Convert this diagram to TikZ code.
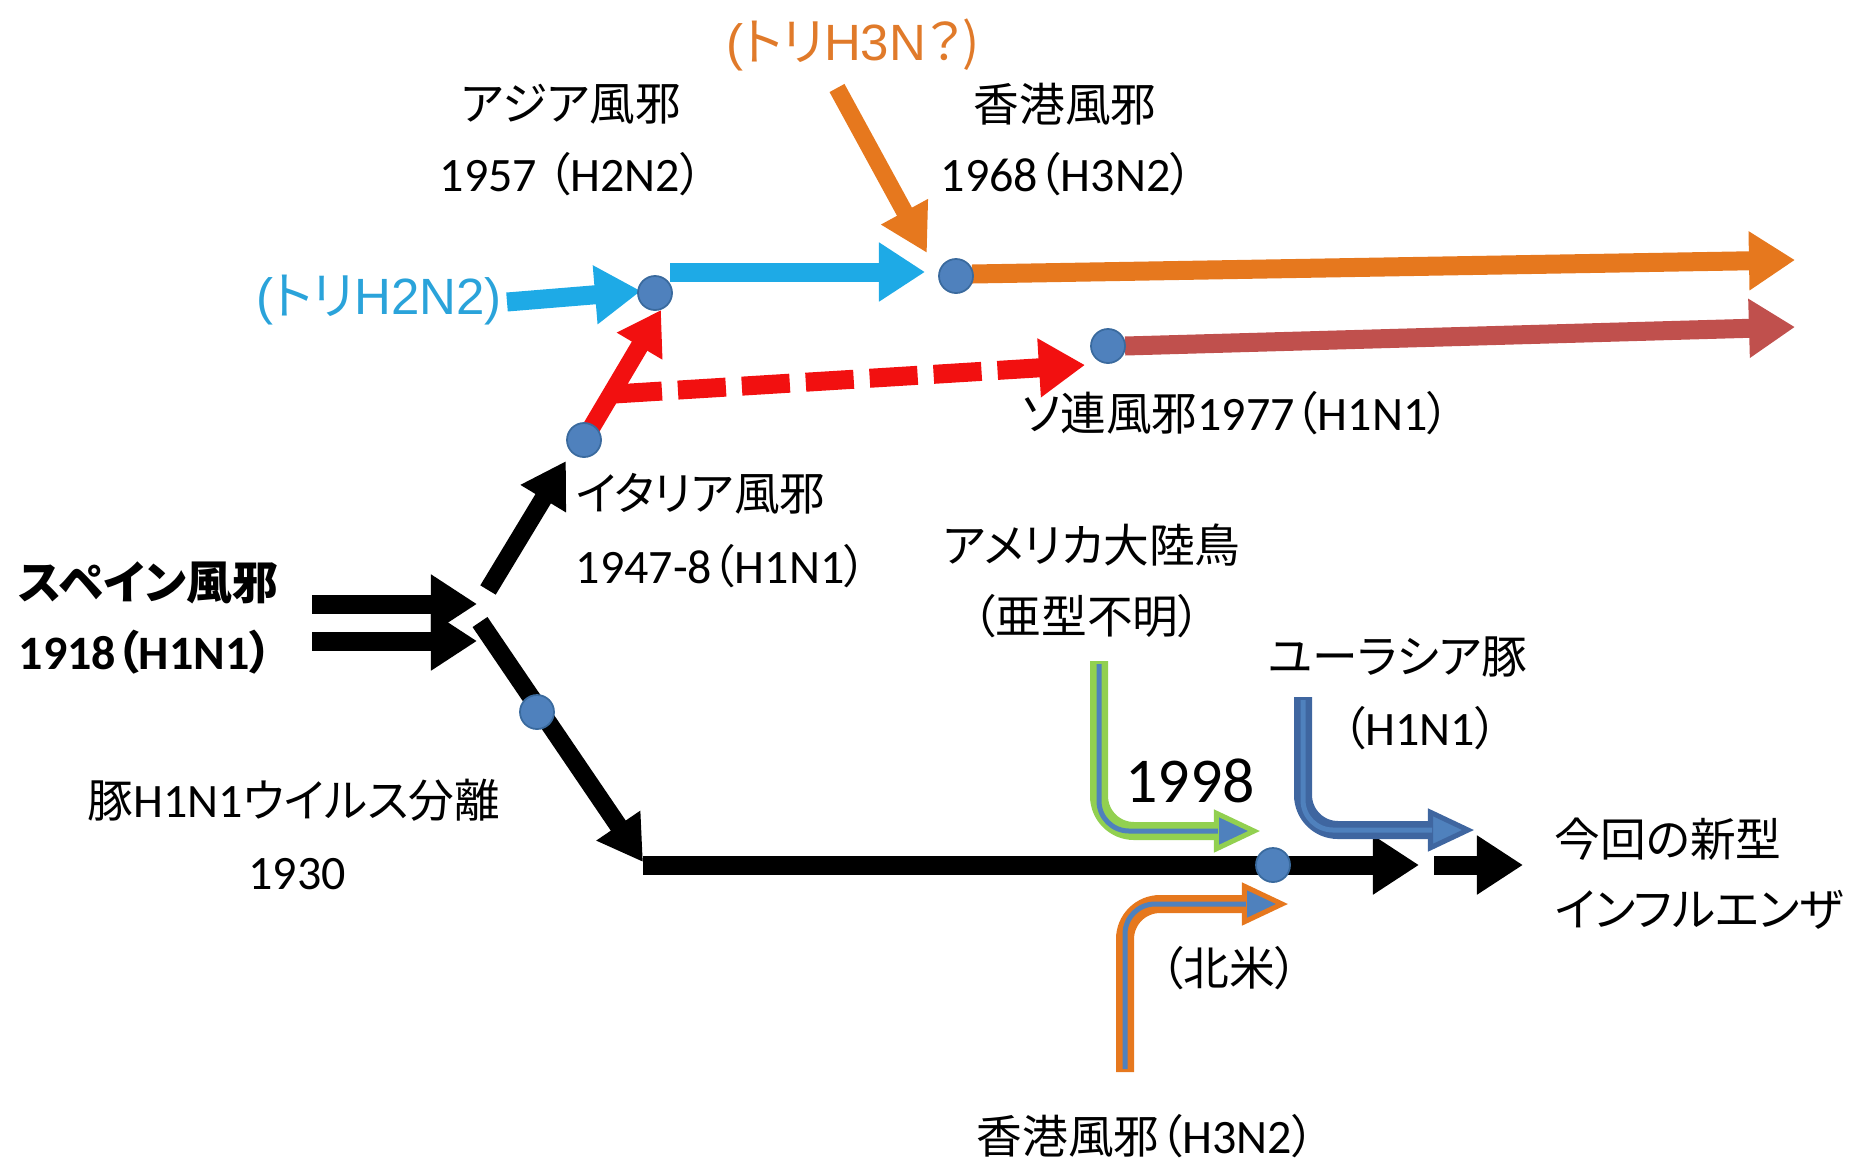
\documentclass[tikz,border=0pt]{standalone}
\usepackage{fontspec}
\setmainfont{Carlito}[Scale=1.05]
\newfontfamily\jp{Noto Sans CJK JP}[RawFeature=+palt]
\newfontfamily\ar{Liberation Sans}
\usetikzlibrary{arrows.meta}
\newcommand{\J}[1]{{\jp #1}}
\definecolor{cyanA}{HTML}{1EAAE6}
\definecolor{cyanT}{HTML}{2AA3DA}
\definecolor{orangeA}{HTML}{E6781E}
\definecolor{orangeT}{HTML}{E07A2A}
\definecolor{darkredA}{HTML}{C0504D}
\definecolor{redA}{HTML}{F21010}
\definecolor{dotblue}{HTML}{4F81BD}
\definecolor{dotedge}{HTML}{3A6A9E}
\definecolor{greenA}{HTML}{92D050}
\definecolor{blueA}{HTML}{3F66A0}
\begin{document}
\begin{tikzpicture}[x=0.01cm,y=-0.01cm,
  txt/.style={inner sep=0pt, font=\fontsize{13}{15}\selectfont},
  lbl/.style={inner sep=0pt, font=\fontsize{14.5}{16}\selectfont},
  fat/.style={line width=0.19cm, -{Triangle[width=0.56cm,length=0.46cm]}},
  mid/.style={line width=0.18cm, -{Triangle[width=0.5cm,length=0.44cm]}},
  dot/.style={circle, fill=dotblue, draw=dotedge, line width=0.5pt, minimum size=0.34cm, inner sep=0pt},
  bentout/.style={line width=0.18cm, rounded corners=0.35cm, -{Triangle[width=0.42cm,length=0.46cm,fill=dotblue,line width=0.05cm]}},
  bentin/.style={line width=0.05cm, rounded corners=0.3cm, dotblue, shorten >=0.42cm, shorten <=0.03cm}]
\useasboundingbox (0,0) rectangle (1858,1163);

% ---------- text ----------
\node[lbl,text=orangeT] (tH3N) at (853,45) {{\ar (}\J{トリ}{\ar H3N}\J{？)}};
\node[lbl,text=cyanT] (tH2N2) at (379,300) {{\ar (}\J{トリ}{\ar H2N2)}};
\node[txt] (asia) at (571,104) {\jp アジア風邪};
\node[txt,anchor=west] (asiay) at (439,174) {1957 \J{（}H2N2\J{）}};
\node[txt] (hk) at (1065,104) {\jp 香港風邪};
\node[txt,anchor=west] (hky) at (940,174) {1968\J{（}H3N2\J{）}};
\node[txt,anchor=west] (it) at (575,494) {\jp イタリア風邪};
\node[txt,anchor=west] (ity) at (575,566) {1947-8\J{（}H1N1\J{）}};
\node[txt,anchor=west] (su) at (1022,413) {\J{ソ連風邪}1977\J{（}H1N1\J{）}};
\node[txt,anchor=west] (sp) at (18,583) {\jp\bfseries スペイン風邪};
\node[txt,anchor=west] (spy) at (18,652) {\bfseries 1918\J{\bfseries （}H1N1\J{\bfseries ）}};
\node[txt] (pig) at (294,800) {\J{豚}H1N1\J{ウイルス分離}};
\node[txt] (pigy) at (297,874) {1930};
\node[txt] (am) at (1092,545) {\jp アメリカ大陸鳥};
\node[txt,anchor=west] (amt) at (972,616) {\jp （亜型不明）};
\node[txt] (eu) at (1398,657) {\jp ユーラシア豚};
\node[txt,anchor=west] (eut) at (1342,728) {\J{（}H1N1\J{）}};
\node[txt,font=\fontsize{17.3}{20}\selectfont] (y98) at (1190,781) {1998};
\node[txt,anchor=west] (new1) at (1554,839) {\jp 今回の新型};
\node[txt,anchor=west] (new2) at (1554,910) {\jp インフルエンザ};
\node[txt,anchor=west] (na) at (1160,968) {\jp （北米）};
\node[txt,anchor=west] (hk2) at (976,1136) {\J{香港風邪（}H3N2\J{）}};

% ---------- dots (positions) ----------
\coordinate (p57) at (655,293);
\coordinate (p68) at (956,276);
\coordinate (p77) at (1108,346);
\coordinate (p47) at (584,440);
\coordinate (p30) at (537,712);
\coordinate (p98) at (1273,865);

% ---------- arrow end points ----------
\coordinate (c1s) at (507,302);  \coordinate (c1e) at (641,291);
\coordinate (c2s) at (670,272);  \coordinate (c2e) at (925,272);
\coordinate (o1s) at (837,88);   \coordinate (o1e) at (927,253);
\coordinate (o2s) at (972,274);  \coordinate (o2e) at (1795,260);
\coordinate (r2s) at (1125,346); \coordinate (r2e) at (1795,327);
\coordinate (rds) at (614,394);  \coordinate (rde) at (1085,365);
\coordinate (rse) at (661,310);
\coordinate (bus) at (488,590);  \coordinate (bue) at (566,461);
\coordinate (b1s) at (312,604);  \coordinate (b1e) at (477,604);
\coordinate (b2s) at (312,641);  \coordinate (b2e) at (477,641);
\coordinate (bds) at (480,622);  \coordinate (bde) at (643,862);
\coordinate (bhs) at (643,865);  \coordinate (bhe) at (1419,865);
\coordinate (bks) at (1434,865); \coordinate (bke) at (1523,865);
\coordinate (g0) at (1099,661);  \coordinate (g1) at (1099,831); \coordinate (g2) at (1260,831);
\coordinate (u0) at (1303,697);  \coordinate (u1) at (1303,830); \coordinate (u2) at (1474,830);
\coordinate (h0) at (1125,1072); \coordinate (h1) at (1125,904); \coordinate (h2) at (1288,904);

% ---------- arrows ----------
\draw[fat,cyanA] (c1s) -- (c1e);
\draw[fat,cyanA] (c2s) -- (c2e);
\draw[line width=0.17cm,orangeA,-{Triangle[width=0.5cm,length=0.47cm]}] (o1s) -- (o1e);
\draw[fat,orangeA] (o2s) -- (o2e);
\draw[fat,darkredA] (r2s) -- (r2e);
\draw[fat,redA,dash pattern=on 0.48cm off 0.16cm] (rds) -- (rde);
\draw[line width=0.18cm,redA,-{Triangle[width=0.5cm,length=0.42cm]}] (p47) -- (rse);
\draw[mid,black] (bus) -- (bue);
\draw[fat,black] (b1s) -- (b1e);
\draw[fat,black] (b2s) -- (b2e);
\draw[mid,black] (bds) -- (bde);
\draw[fat,black] (bhs) -- (bhe);
\draw[fat,black] (bks) -- (bke);

\draw[bentout,greenA] (g0) -- (g1) -- (g2);
\draw[bentin] (g0) -- (g1) -- (g2);
\draw[bentout,blueA] (u0) -- (u1) -- (u2);
\draw[bentin] (u0) -- (u1) -- (u2);
\draw[bentout,orangeA] (h0) -- (h1) -- (h2);
\draw[bentin] (h0) -- (h1) -- (h2);

% ---------- dots ----------
\node[dot] (d57) at (p57) {};
\node[dot] (d68) at (p68) {};
\node[dot] (d77) at (p77) {};
\node[dot] (d47) at (p47) {};
\node[dot] (d30) at (p30) {};
\node[dot] (d98) at (p98) {};
\end{tikzpicture}
\end{document}
